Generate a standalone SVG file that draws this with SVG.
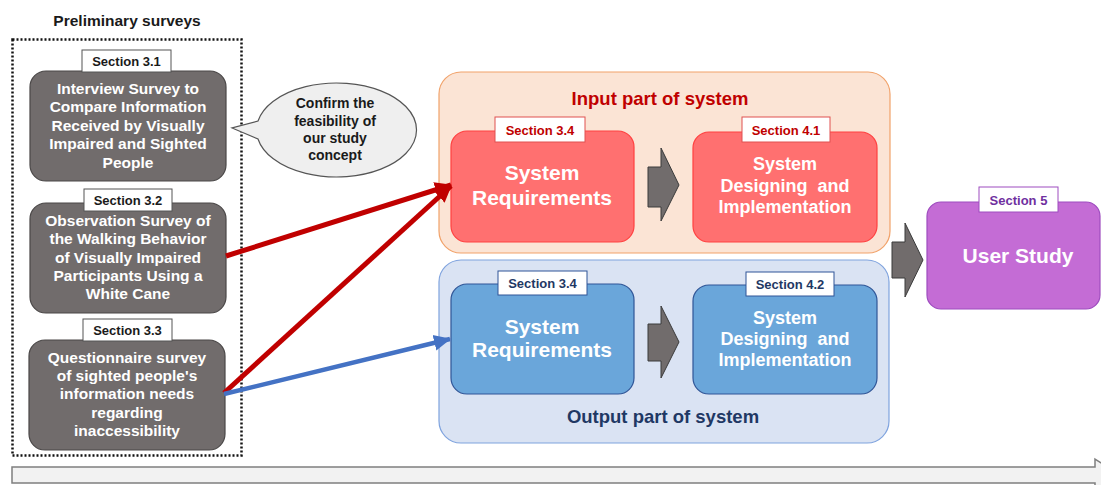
<svg xmlns="http://www.w3.org/2000/svg" width="1101" height="485" viewBox="0 0 1101 485">
<style>
text{font-family:"Liberation Sans","Noto Sans",Arial,sans-serif;font-weight:bold;text-anchor:middle;white-space:pre}
.gnode{fill:#716c6c;stroke:#4a4747;stroke-width:1.2}
.gtxt{fill:#ffffff;font-size:15.5px}
.lbl{fill:#ffffff;stroke:#555555;stroke-width:1}
.lbltxt{font-size:13px;fill:#1a1a1a}
.rnode{fill:#ff7070;stroke:#ff4040;stroke-width:1.2}
.bnode{fill:#6aa6da;stroke:#2f5597;stroke-width:1.2}
.big{fill:#ffffff;font-size:21px}
.mid{fill:#ffffff;font-size:18px}
.blk{fill:#716c6c;stroke:#3a3a3a;stroke-width:1}
.co{font-size:14px;fill:#1a1a1a}
</style>
<defs>
<marker id="ahR" markerUnits="userSpaceOnUse" markerWidth="18" markerHeight="18" refX="16" refY="9" orient="auto"><path d="M0,1 L17,9 L0,17 Z" fill="#c00000"/></marker>
<marker id="ahB" markerUnits="userSpaceOnUse" markerWidth="18" markerHeight="18" refX="16" refY="9" orient="auto"><path d="M0,1 L17,9 L0,17 Z" fill="#4472c4"/></marker>
</defs>
<rect width="1101" height="485" fill="#ffffff"/>

<!-- bottom timeline arrow -->
<polygon points="12,467 1095,467 1095,459 1120,475 1095,491 1095,483 12,483" fill="#f2f2f2" stroke="#7f7f7f" stroke-width="1.5"/>

<!-- preliminary surveys frame -->
<text x="127" y="26" style="font-size:15.5px;fill:#1a1a1a">Preliminary surveys</text>
<rect x="12.5" y="39.5" width="229" height="416" fill="none" stroke="#111111" stroke-width="2.5" stroke-dasharray="2,2"/>

<!-- input/output containers -->
<g id="input-part">
<rect x="439" y="72" width="451" height="181" rx="22" fill="#fbe4d5" stroke="#f1a26a" stroke-width="1.2"/>
<text x="660" y="105" style="font-size:18.5px;fill:#c00000">Input part of system</text>
</g>
<g id="output-part">
<rect x="439" y="260" width="450" height="183" rx="22" fill="#dae3f3" stroke="#7fa3de" stroke-width="1.2"/>
<text x="663" y="423" style="font-size:18.5px;fill:#1f3864">Output part of system</text>
</g>

<!-- callout -->
<g id="callout">
<path d="M258,121 A80,47 0 1 1 258,139 L232,128 Z" fill="#efefef" stroke="#555555" stroke-width="1.2"/>
<text class="co" x="335" y="108">Confirm the</text>
<text class="co" x="335" y="126">feasibility of</text>
<text class="co" x="335" y="143">our study</text>
<text class="co" x="335" y="160">concept</text>
</g>

<!-- survey nodes -->
<g id="s31">
<rect class="gnode" x="30" y="71" width="196" height="110" rx="16"/>
<rect class="lbl" x="82" y="50" width="89" height="22"/>
<text class="lbltxt" x="126.5" y="66">Section 3.1</text>
<text class="gtxt" x="128" y="94">Interview Survey to</text>
<text class="gtxt" x="128" y="112">Compare Information</text>
<text class="gtxt" x="128" y="131">Received by Visually</text>
<text class="gtxt" x="128" y="149">Impaired and Sighted</text>
<text class="gtxt" x="128" y="168">People</text>
</g>
<g id="s32">
<rect class="gnode" x="30" y="203" width="196" height="110" rx="16"/>
<rect class="lbl" x="84" y="189" width="88" height="22"/>
<text class="lbltxt" x="128" y="205">Section 3.2</text>
<text class="gtxt" x="128" y="226">Observation Survey of</text>
<text class="gtxt" x="128" y="244">the Walking Behavior</text>
<text class="gtxt" x="128" y="263">of Visually Impaired</text>
<text class="gtxt" x="128" y="281">Participants Using a</text>
<text class="gtxt" x="128" y="299">White Cane</text>
</g>
<g id="s33">
<rect class="gnode" x="29" y="340" width="196" height="110" rx="16"/>
<rect class="lbl" x="83" y="319" width="89" height="22"/>
<text class="lbltxt" x="127.5" y="335">Section 3.3</text>
<text class="gtxt" x="127" y="363">Questionnaire survey</text>
<text class="gtxt" x="127" y="381">of sighted people's</text>
<text class="gtxt" x="127" y="399">information needs</text>
<text class="gtxt" x="127" y="418">regarding</text>
<text class="gtxt" x="127" y="436">inaccessibility</text>
</g>

<!-- input nodes -->
<g id="in-req">
<rect class="rnode" x="451" y="131" width="183" height="111" rx="16"/>
<rect x="495" y="117" width="90" height="25" fill="#ffffff" stroke="#e05050" stroke-width="1"/>
<text x="540" y="134.5" style="font-size:13px;fill:#c00000">Section 3.4</text>
<text class="big" x="542" y="180">System</text>
<text class="big" x="542" y="205">Requirements</text>
</g>
<g id="in-impl">
<rect class="rnode" x="693" y="132" width="184" height="110" rx="16"/>
<rect x="742" y="117" width="88" height="25" fill="#ffffff" stroke="#e05050" stroke-width="1"/>
<text x="786" y="134.5" style="font-size:13px;fill:#c00000">Section 4.1</text>
<text class="mid" x="785" y="170">System</text>
<text class="mid" x="785" y="192" xml:space="preserve">Designing  and</text>
<text class="mid" x="785" y="213">Implementation</text>
</g>

<!-- output nodes -->
<g id="out-req">
<rect class="bnode" x="451" y="284" width="183" height="110" rx="16"/>
<rect x="498" y="271" width="89" height="24" fill="#ffffff" stroke="#2f5597" stroke-width="1"/>
<text x="542.5" y="288" style="font-size:13px;fill:#1f3864">Section 3.4</text>
<text class="big" x="542" y="334">System</text>
<text class="big" x="542" y="357">Requirements</text>
</g>
<g id="out-impl">
<rect class="bnode" x="693" y="285" width="184" height="109" rx="16"/>
<rect x="746" y="272" width="88" height="24" fill="#ffffff" stroke="#2f5597" stroke-width="1"/>
<text x="790" y="289" style="font-size:13px;fill:#1f3864">Section 4.2</text>
<text class="mid" x="785" y="324">System</text>
<text class="mid" x="785" y="345" xml:space="preserve">Designing  and</text>
<text class="mid" x="785" y="366">Implementation</text>
</g>

<!-- user study -->
<g id="user-study">
<rect x="927" y="202" width="173" height="107" rx="14" fill="#c46cd5" stroke="#9e4cbf" stroke-width="1.2"/>
<rect x="979" y="187" width="79" height="25" fill="#ffffff" stroke="#9e4cbf" stroke-width="1"/>
<text x="1018.5" y="204.5" style="font-size:13px;fill:#7030a0">Section 5</text>
<text x="1018" y="263" style="font-size:21px;fill:#ffffff">User Study</text>
</g>

<!-- connectors -->
<g id="connectors">
<polygon class="blk" points="648,167 661,167 661,148 679,185 661,221 661,207 648,207"/>
<polygon class="blk" points="648,324 661,324 661,306 679,342 661,378 661,361 648,361"/>
<polygon class="blk" points="892,242 905,242 905,223 923,260 905,297 905,278 892,278"/>
<line x1="226" y1="256" x2="451" y2="185" stroke="#c00000" stroke-width="5" marker-end="url(#ahR)"/>
<line x1="224" y1="393" x2="451" y2="186" stroke="#c00000" stroke-width="5" marker-end="url(#ahR)"/>
<line x1="224" y1="394" x2="450" y2="339" stroke="#4472c4" stroke-width="4.5" marker-end="url(#ahB)"/>
</g>
</svg>
